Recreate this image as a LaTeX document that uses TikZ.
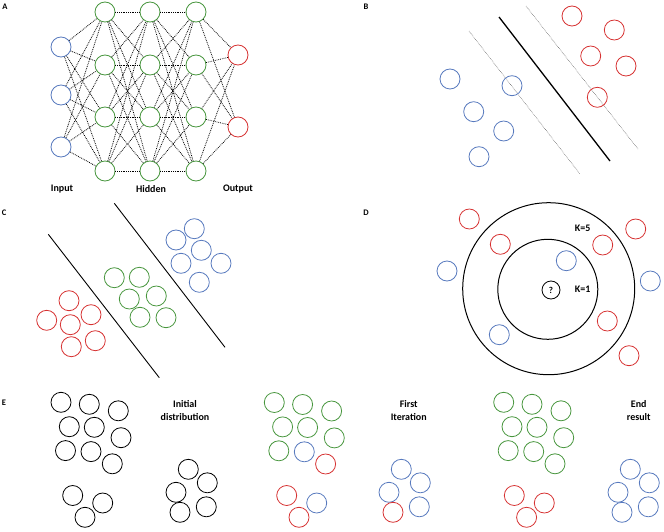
\documentclass[tikz,border=0pt]{standalone}
\usepackage{fontspec}
\setmainfont{Carlito}
\usetikzlibrary{calc}

\definecolor{ptblue}{RGB}{88,122,190}
\definecolor{ptred}{RGB}{214,50,50}
\definecolor{ptgreen}{RGB}{72,150,62}

\begin{document}
\begin{tikzpicture}[x=1pt,y=-1pt,
  pt/.style={circle,draw,line width=0.8pt,minimum size=20pt,inner sep=0pt},
  link/.style={densely dotted,line width=0.8pt},
  margin/.style={densely dotted,line width=0.5pt,black!75},
  lbl/.style={font=\bfseries\fontsize{10}{12.5}\selectfont,align=center},
  tag/.style={font=\bfseries\fontsize{8.5}{9}\selectfont}]
  \useasboundingbox (0,0) rectangle (664,532);

  % Panel A: network
  \node[tag] (tA) at (5,7) {A};
  \foreach \n/\y in {1/47,2/95,3/147}
    \node[pt,ptblue] (in\n) at (61,\y) {};
  \foreach \c/\x in {1/105,2/150,3/196}
    \foreach \n/\y in {1/12,2/65,3/117,4/171}
      \node[pt,ptgreen] (h\c\n) at (\x,\y) {};
  \foreach \n/\y in {1/55,2/127}
    \node[pt,ptred] (out\n) at (238,\y) {};

  % connections between layers
  \foreach \a in {1,2,3}
    \foreach \b in {1,...,4}
      \draw[link] (in\a) -- (h1\b);
  \foreach \c/\d in {1/2,2/3}
    \foreach \a in {1,...,4}
      \foreach \b in {1,...,4}
        \draw[link] (h\c\a) -- (h\d\b);
  \foreach \a in {1,...,4}
    \foreach \b in {1,2}
      \draw[link] (h3\a) -- (out\b);

  \node[lbl] (inlab) at (62,189) {Input};
  \node[lbl] (hidlab) at (151,189) {Hidden};
  \node[lbl] (outlab) at (238,189) {Output};

  % Panel B: margins
  \node[tag] (tB) at (366,7) {B};
  \coordinate (m1s) at (469,31);  \coordinate (m1e) at (580,174);
  \coordinate (svs) at (499,17);  \coordinate (sve) at (610,161);
  \coordinate (m2s) at (526,6);   \coordinate (m2e) at (638,149);
  \draw[margin] (m1s) -- (m1e);
  \draw[line width=1.3pt] (svs) -- (sve);
  \draw[margin] (m2s) -- (m2e);
  \foreach \x/\y [count=\i] in {450/79,512/85.7,473.7/111.7,503.7/131,479/156.7}
    \node[pt,ptblue] (bb\i) at (\x,\y) {};
  \foreach \x/\y [count=\i] in {572/16,614.3/30,590.7/56,626/66,597.3/97.3}
    \node[pt,ptred] (br\i) at (\x,\y) {};

  % Panel C: three classes
  \node[tag] (tC) at (4,213) {C};
  \coordinate (c1s) at (48.3,234.3);  \coordinate (c1e) at (159.3,377.7);
  \coordinate (c2s) at (114.3,203.3); \coordinate (c2e) at (225,347.3);
  \draw[line width=0.9pt] (c1s) -- (c1e);
  \draw[line width=0.9pt] (c2s) -- (c2e);
  \foreach \x/\y [count=\i] in {69/300.7,46.7/320.3,70.3/324.7,91/314.7,71.3/346.7,95.3/340.7}
    \node[pt,ptred] (cr\i) at (\x,\y) {};
  \foreach \x/\y [count=\i] in {114.3/277.7,139.3/277.3,129.3/299,156.3/296,140/317.3,166/317.7}
    \node[pt,ptgreen] (cg\i) at (\x,\y) {};
  \foreach \x/\y [count=\i] in {194.3/228.7,176/240,201.3/250.3,181/263.3,221/263.3,199.3/282.3}
    \node[pt,ptblue] (cb\i) at (\x,\y) {};

  % Panel D: neighbours
  \node[tag] (tD) at (366,213) {D};
  \node[circle,draw,line width=1pt,minimum size=172pt,inner sep=0pt] (k5) at (548.7,288.7) {};
  \node[circle,draw,line width=1pt,minimum size=100pt,inner sep=0pt] (k1) at (547.8,289.3) {};
  \node[pt,black,minimum size=18pt,font=\bfseries\small] (q) at (551,290) {?};
  \node[lbl] (k5lab) at (582.7,228.3) {K=5};
  \node[lbl] (k1lab) at (582.7,289.3) {K=1};
  \foreach \x/\y [count=\i] in {469.3/219,500.3/244.3,602.7/245,635.7/229,607.3/321,629/355.7}
    \node[pt,ptred] (dr\i) at (\x,\y) {};
  \foreach \x/\y [count=\i] in {447/271,566.3/260.7,650.3/281,499.3/334.7}
    \node[pt,ptblue] (db\i) at (\x,\y) {};

  % Panel E: clustering steps
  \node[tag] (tE) at (4,403) {E};
  % upper cluster
  \foreach \dx/\dy/\ca/\cb/\cc [count=\i] in
    {0/0/black/ptgreen/ptgreen, 28.3/2/black/ptgreen/ptgreen, 57.3/8.5/black/ptgreen/ptgreen,
     8.3/24.4/black/ptgreen/ptgreen, 33.3/25/black/ptgreen/ptgreen, 60/35.4/black/ptgreen/ptgreen,
     4.5/48.3/black/ptgreen/ptgreen, 30/49.3/black/ptblue/ptgreen, 51.3/61.5/black/ptred/ptgreen}
  {
    \node[pt,\ca] (eu1\i) at (61+\dx,402.3+\dy) {};
    \node[pt,\cb] (eu2\i) at (274.3+\dx,402.5+\dy) {};
    \node[pt,\cc] (eu3\i) at (503.7+\dx,402.3+\dy) {};
  }
  % lower cluster
  \foreach \dx/\dy/\ca/\cb/\cc [count=\i] in
    {0/0/black/ptred/ptred, 30/7.5/black/ptblue/ptred, 12.3/21.8/black/ptred/ptred}
  {
    \node[pt,\ca] (el1\i) at (72.7+\dx,495.5+\dy) {};
    \node[pt,\cb] (el2\i) at (286.7+\dx,495.5+\dy) {};
    \node[pt,\cc] (el3\i) at (514.3+\dx,495.5+\dy) {};
  }
  % right cluster
  \foreach \dx/\dy/\ca/\cb/\cc [count=\i] in
    {0/0/black/ptblue/ptblue, 19/13.5/black/ptblue/ptblue, -12.3/23/black/ptblue/ptblue,
     18/37.5/black/ptblue/ptblue, -8.3/43/black/ptred/ptblue}
  {
    \node[pt,\ca] (er1\i) at (188.3+\dx,469.3+\dy) {};
    \node[pt,\cb] (er2\i) at (401.3+\dx,469.3+\dy) {};
    \node[pt,\cc] (er3\i) at (630.3+\dx,469.3+\dy) {};
  }
  \node[lbl] (init) at (185,410.5) {Initial\\distribution};
  \node[lbl] (first) at (408.7,410.5) {First\\Iteration};
  \node[lbl] (endres) at (638.7,410.5) {End\\result};
\end{tikzpicture}
\end{document}
